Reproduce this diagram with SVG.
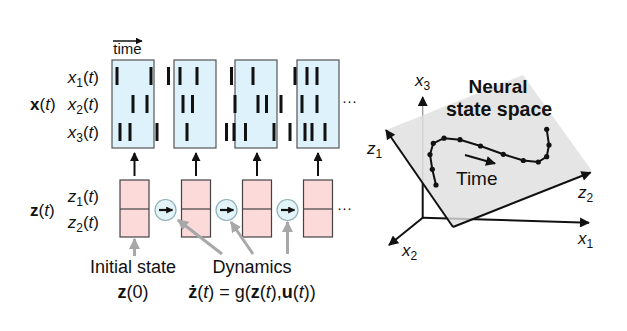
<svg xmlns="http://www.w3.org/2000/svg" width="627" height="331" viewBox="0 0 627 331">
<style>
text{font-family:"Liberation Sans",Arial,sans-serif;fill:#111}
.lbl{font-size:17px}
.big{font-size:18px}
.sub{font-size:12px}
.i{font-style:italic}
.b{font-weight:bold}
.bbox{fill:#ddf2fa;stroke:#555;stroke-width:1.2}
.pbox{fill:#fcdada;stroke:#444;stroke-width:1.2}
.spk{stroke:#111;stroke-width:3}
.up{stroke:#111;stroke-width:2;marker-end:url(#ahB)}
.gray{stroke:#a8a8a8;stroke-width:3;fill:none;marker-end:url(#ahG)}
.circ{fill:#e2f4f8;stroke:#8fb0b8;stroke-width:1.2}
.ax{stroke:#111;stroke-width:2;fill:none}
</style>
<defs>
<marker id="ahB" viewBox="0 0 10 10" refX="9" refY="5" markerWidth="9" markerHeight="9" markerUnits="userSpaceOnUse" orient="auto"><path d="M0,0 L10,5 L0,10 z" fill="#111"/></marker>
<marker id="ahS" viewBox="0 0 10 10" refX="9" refY="5" markerWidth="7" markerHeight="7" markerUnits="userSpaceOnUse" orient="auto"><path d="M0,0 L10,5 L0,10 z" fill="#111"/></marker>
<marker id="ahG" viewBox="0 0 10 10" refX="9" refY="5" markerWidth="11" markerHeight="11" markerUnits="userSpaceOnUse" orient="auto"><path d="M0,0 L10,5 L0,10 z" fill="#a8a8a8"/></marker>
<marker id="ahA" viewBox="0 0 10 10" refX="9" refY="5" markerWidth="11" markerHeight="10" markerUnits="userSpaceOnUse" orient="auto"><path d="M0,0 L10,5 L0,10 z" fill="#111"/></marker>
</defs>
<rect width="627" height="331" fill="#fff"/>

<g id="labels-left">
<text x="127.5" y="54" font-size="15" text-anchor="middle">time</text>
<line x1="113" y1="41" x2="142" y2="41" stroke="#111" stroke-width="1.5" marker-end="url(#ahS)"/>
<text class="lbl" x="99" y="83" text-anchor="end"><tspan class="i">x</tspan><tspan class="sub" dy="4">1</tspan><tspan dy="-4">(</tspan><tspan class="i">t</tspan>)</text>
<text class="lbl" x="99" y="110" text-anchor="end"><tspan class="i">x</tspan><tspan class="sub" dy="4">2</tspan><tspan dy="-4">(</tspan><tspan class="i">t</tspan>)</text>
<text class="lbl" x="99" y="138" text-anchor="end"><tspan class="i">x</tspan><tspan class="sub" dy="4">3</tspan><tspan dy="-4">(</tspan><tspan class="i">t</tspan>)</text>
<text class="lbl" x="30" y="110"><tspan class="b">x</tspan>(<tspan class="i">t</tspan>)</text>
<text class="lbl" x="99" y="202" text-anchor="end"><tspan class="i">z</tspan><tspan class="sub" dy="4">1</tspan><tspan dy="-4">(</tspan><tspan class="i">t</tspan>)</text>
<text class="lbl" x="99" y="228" text-anchor="end"><tspan class="i">z</tspan><tspan class="sub" dy="4">2</tspan><tspan dy="-4">(</tspan><tspan class="i">t</tspan>)</text>
<text class="lbl" x="30" y="216"><tspan class="b">z</tspan>(<tspan class="i">t</tspan>)</text>
</g>

<g id="x-box-1"><rect class="bbox" x="112" y="60" width="42" height="88"/></g>
<g id="x-box-2"><rect class="bbox" x="174" y="60" width="42" height="88"/></g>
<g id="x-box-3"><rect class="bbox" x="235" y="60" width="42" height="88"/></g>
<g id="x-box-4"><rect class="bbox" x="297" y="60" width="42" height="88"/></g>
<g id="spikes">
<path class="spk" d="M117,67v18M151,67v18M168.5,67v18M180,67v18M197,67v18M231.5,67v18M253,67v18M295,67v18M307,67v18M317,67v18"/>
<path class="spk" d="M133,95v18M147,95v18M183,95v18M192.5,95v18M235,95v18M258,95v18M266.5,95v18M281,95v18M302,95v18M317,95v18"/>
<path class="spk" d="M120,123v18M130,123v18M157,123v18M187,123v18M226.5,123v18M234,123v18M245.5,123v18M274,123v18M290,123v18M305,123v18M312,123v18M325,123v18"/>
</g>
<text x="342" y="106" font-size="15">···</text>

<g id="z-box-1"><rect class="pbox" x="120" y="180" width="29" height="57"/><line x1="120" y1="209" x2="149" y2="209" stroke="#444" stroke-width="1.2"/></g>
<g id="z-box-2"><rect class="pbox" x="181.5" y="180" width="29" height="57"/><line x1="181.5" y1="209" x2="210.5" y2="209" stroke="#444" stroke-width="1.2"/></g>
<g id="z-box-3"><rect class="pbox" x="242.5" y="180" width="29" height="57"/><line x1="242.5" y1="209" x2="271.5" y2="209" stroke="#444" stroke-width="1.2"/></g>
<g id="z-box-4"><rect class="pbox" x="303.5" y="180" width="29" height="57"/><line x1="303.5" y1="209" x2="332.5" y2="209" stroke="#444" stroke-width="1.2"/></g>
<text x="337" y="213" font-size="15">···</text>

<g id="dyn-1"><circle class="circ" cx="165.5" cy="210" r="10.5"/><line x1="159" y1="210" x2="172.5" y2="210" stroke="#111" stroke-width="2.2" marker-end="url(#ahS)"/></g>
<g id="dyn-2"><circle class="circ" cx="226.5" cy="210" r="10.5"/><line x1="220" y1="210" x2="233.5" y2="210" stroke="#111" stroke-width="2.2" marker-end="url(#ahS)"/></g>
<g id="dyn-3"><circle class="circ" cx="287.5" cy="210" r="10.5"/><line x1="281" y1="210" x2="294.5" y2="210" stroke="#111" stroke-width="2.2" marker-end="url(#ahS)"/></g>

<g id="connectors">
<line class="up" x1="134.5" y1="176" x2="134.5" y2="153"/>
<line class="up" x1="196" y1="176" x2="196" y2="153"/>
<line class="up" x1="257" y1="176" x2="257" y2="153"/>
<line class="up" x1="318" y1="176" x2="318" y2="153"/>
<line class="gray" x1="134.5" y1="256" x2="134.5" y2="239"/>
<line class="gray" x1="222" y1="254" x2="178" y2="220"/>
<line class="gray" x1="253" y1="254" x2="231" y2="222"/>
<line class="gray" x1="287.5" y1="254" x2="287.5" y2="222"/>
</g>

<g id="labels-bottom">
<text class="big" x="133" y="273" text-anchor="middle" fill="#222">Initial state</text>
<text class="big" x="133" y="298" text-anchor="middle"><tspan class="b">z</tspan>(0)</text>
<text class="big" x="252" y="273" text-anchor="middle" fill="#222">Dynamics</text>
<text class="big" x="252" y="298" text-anchor="middle"><tspan class="b">ż</tspan>(<tspan class="i">t</tspan>) = g(<tspan class="b">z</tspan>(<tspan class="i">t</tspan>),<tspan class="b">u</tspan>(<tspan class="i">t</tspan>))</text>
</g>

<g id="state-space">
<line class="ax" x1="422.7" y1="217.7" x2="589" y2="222.7" marker-end="url(#ahA)"/>
<line class="ax" x1="422.7" y1="217.7" x2="389" y2="245" marker-end="url(#ahA)"/>
<line x1="422.7" y1="183" x2="422.7" y2="218.5" stroke="#111" stroke-width="2"/>
<line x1="422.7" y1="183" x2="422.7" y2="100" stroke="#9a9a9a" stroke-width="1.3"/>
<line x1="422.7" y1="105" x2="422.7" y2="97" stroke="#111" stroke-width="1.3" marker-end="url(#ahA)"/>
<polygon points="386,130 523,75 592,171 453,227" fill="#dedede" fill-opacity="0.8"/>
<line class="ax" x1="453" y1="227" x2="386" y2="130" marker-end="url(#ahA)"/>
<line class="ax" x1="453" y1="227" x2="590.5" y2="172.5" marker-end="url(#ahA)"/>
<polyline class="ax" stroke-linejoin="round" points="436,185 432.3,169.3 430,154.5 433.3,143.3 444,138.2 460,139.7 480.5,146 503.3,154.3 523.3,160.5 538.3,162 546.7,156.7 549,145 546.7,129.3"/>
<g fill="#111">
<circle cx="436" cy="185" r="2.6"/><circle cx="432.3" cy="169.3" r="2.6"/><circle cx="430" cy="154.5" r="2.6"/><circle cx="433.3" cy="143.3" r="2.6"/><circle cx="444" cy="138.2" r="2.6"/><circle cx="460" cy="139.7" r="2.6"/><circle cx="480.5" cy="146" r="2.6"/><circle cx="503.3" cy="154.3" r="2.6"/><circle cx="523.3" cy="160.5" r="2.6"/><circle cx="538.3" cy="162" r="2.6"/><circle cx="546.7" cy="156.7" r="2.6"/><circle cx="549" cy="145" r="2.6"/><circle cx="546.7" cy="129.3" r="2.6"/>
</g>
<line x1="465" y1="155" x2="495" y2="163.5" stroke="#111" stroke-width="2" marker-end="url(#ahA)"/>
<text x="456" y="185" font-size="19" fill="#222">Time</text>
<text x="498" y="93" font-size="19" font-weight="bold" text-anchor="middle">Neural</text>
<text x="499" y="116" font-size="19.5" font-weight="bold" text-anchor="middle">state space</text>
<text class="lbl" x="415" y="86"><tspan class="i">x</tspan><tspan class="sub" dy="4">3</tspan></text>
<text class="lbl" x="367" y="154"><tspan class="i">z</tspan><tspan class="sub" dy="4">1</tspan></text>
<text class="lbl" x="578" y="198"><tspan class="i">z</tspan><tspan class="sub" dy="4">2</tspan></text>
<text class="lbl" x="578" y="244"><tspan class="i">x</tspan><tspan class="sub" dy="4">1</tspan></text>
<text class="lbl" x="402" y="256"><tspan class="i">x</tspan><tspan class="sub" dy="4">2</tspan></text>
</g>
</svg>
